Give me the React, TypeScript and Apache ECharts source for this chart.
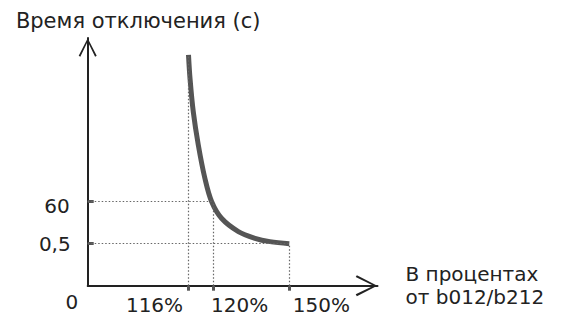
import React, { useEffect, useRef } from "react";
import * as echarts from "echarts";

// Schematic axis positions (the original axes are not to scale)
const xTickValues = [4, 5, 8];
const xTickLabels = ["116%", "120%", "150%"];
const yTickValues = [0, 1, 2];
const yTickLabels = ["0", "0,5", "60"];

// Trip-time curve in the same schematic units
const curveX = [4.0, 4.06, 4.19, 4.39, 4.65, 4.92, 5.32, 5.98, 6.64, 7.23, 8.0];
const curveY = [5.5, 4.94, 4.14, 3.35, 2.56, 2.0, 1.6, 1.29, 1.13, 1.05, 1.0];

// Dotted guides: vertical from the axis up to a level, horizontal from the axis across
const verticalGuides = [
  [4, 5.5],
  [5, 2],
  [8, 1],
];
const horizontalGuides = [
  [5, 2],
  [8, 1],
];

const yAxisName = "Время отключения (с)";
const xAxisName = "В процентах\nот b012/b212";

const FONT = "DejaVu Sans";
const TEXT = "#222";
const AXIS = "#222";
const CURVE = "#555";

const chevron = "path://M9,0 L18,17.5 L16.4,18.5 L9,3.2 L1.6,18.5 L0,17.5 Z";

// layout
const GRID_LEFT = 87.7;
const GRID_RIGHT = 189.5;
const X_MAX = 11.5;
const W = 567;
// horizontal offset (px) of each x label's centre from its tick, as drawn in the original
const xLabelShiftPx = [-34, 26, 32];

export default function App() {
  const ref = useRef<HTMLDivElement>(null);

  useEffect(() => {
    if (!ref.current) return;
    const chart = echarts.init(ref.current, undefined, { renderer: "svg" });

    const lbl = { fontFamily: FONT, fontSize: 20, color: TEXT, lineHeight: 20 };
    const pxPerUnit = (W - GRID_LEFT - GRID_RIGHT) / X_MAX;
    const xLabelPos = xTickValues.map((v, i) => +(v + xLabelShiftPx[i] / pxPerUnit).toFixed(4));

    const guideData: any[] = [];
    verticalGuides.forEach(([x, y]) => {
      guideData.push([{ coord: [x, 0] }, { coord: [x, y] }]);
    });
    horizontalGuides.forEach(([x, y]) => {
      guideData.push([{ coord: [0, y] }, { coord: [x, y] }]);
    });

    chart.setOption({
      animation: false,
      grid: {
        left: GRID_LEFT,
        right: GRID_RIGHT,
        top: 38,
        bottom: 39.3,
        containLabel: false,
        outerBoundsMode: "none",
      },
      xAxis: {
        type: "value",
        min: 0,
        max: X_MAX,
        splitLine: { show: false },
        axisLine: {
          show: true,
          lineStyle: { color: AXIS, width: 2 },
          symbol: ["none", chevron],
          symbolSize: [21, 22],
          symbolOffset: [0, -11],
        },
        axisTick: {
          show: true,
          customValues: xTickValues,
          inside: false,
          length: 5,
          lineStyle: { color: CURVE, width: 3 },
        },
        axisLabel: {
          show: true,
          customValues: xLabelPos,
          showMinLabel: true,
          showMaxLabel: true,
          hideOverlap: false,
          margin: 9,
          ...lbl,
          formatter: (v: number) => {
            let best = 0;
            xLabelPos.forEach((p, i) => {
              if (Math.abs(p - v) < Math.abs(xLabelPos[best] - v)) best = i;
            });
            return xTickLabels[best];
          },
        },
        name: xAxisName,
        nameLocation: "end",
        nameGap: 28,
        nameTextStyle: {
          fontFamily: FONT,
          fontSize: 20,
          color: TEXT,
          lineHeight: 23.5,
          align: "left",
          verticalAlign: "middle",
          padding: [30.6, 0, 0, 0],
        },
      },
      yAxis: {
        type: "value",
        min: 0,
        max: 5.9,
        splitLine: { show: false },
        axisLine: {
          show: true,
          lineStyle: { color: AXIS, width: 2 },
          symbol: ["none", chevron],
          symbolSize: [18, 19],
          symbolOffset: [0, -9.5],
        },
        axisTick: {
          show: true,
          customValues: yTickValues.filter((v) => v > 0),
          inside: true,
          length: 6,
          lineStyle: { color: CURVE, width: 3 },
        },
        axisLabel: {
          show: true,
          customValues: yTickValues,
          showMinLabel: true,
          margin: 9.5,
          ...lbl,
          formatter: (v: number) => {
            const i = yTickValues.indexOf(v);
            return `{y${i}|${yTickLabels[i]}}`;
          },
          rich: {
            y0: { ...lbl, padding: [33, 0, 0, 0] },
            y1: { ...lbl, padding: [0, 7.5, 0, 0] },
            y2: { ...lbl, padding: [8, 8.5, 0, 0] },
          },
        },
        name: yAxisName,
        nameLocation: "end",
        nameGap: 7,
        nameTextStyle: {
          fontFamily: FONT,
          fontSize: 21,
          color: TEXT,
          lineHeight: 21,
          align: "center",
          verticalAlign: "bottom",
          padding: [0, 0, 0, 101],
        },
      },
      series: [
        {
          type: "line",
          name: "guides",
          data: [],
          z: 1,
          silent: true,
          markLine: {
            silent: true,
            symbol: ["none", "none"],
            label: { show: false },
            lineStyle: { color: "#666", width: 1.2, type: [1.5, 2] },
            data: guideData,
          },
        },
        {
          type: "line",
          name: "curve",
          z: 3,
          data: curveX.map((x, i) => [x, curveY[i]]),
          smooth: 0.35,
          showSymbol: false,
          lineStyle: { color: CURVE, width: 5, cap: "butt" },
        },
      ],
    });

    return () => chart.dispose();
  }, []);

  return (
    <div
      ref={ref}
      style={{ position: "absolute", left: 0, top: 0, width: W, height: 325 }}
    />
  );
}
